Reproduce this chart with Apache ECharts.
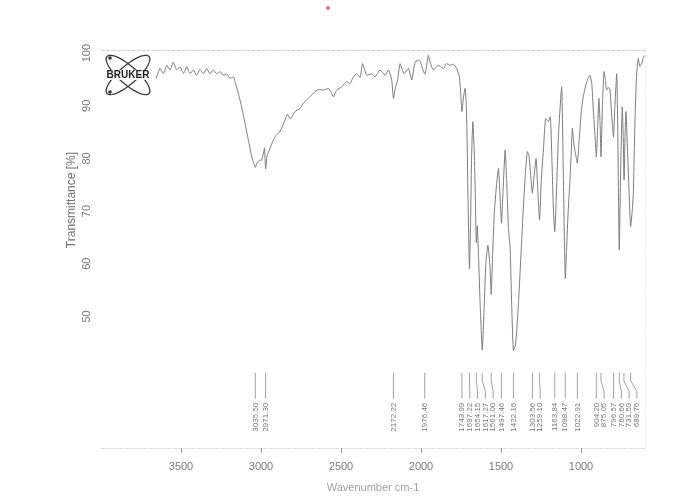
<!DOCTYPE html>
<html>
<head>
<meta charset="utf-8">
<script src="https://cdn.jsdelivr.net/npm/echarts@6/dist/echarts.min.js"></script>
<style>
html,body{margin:0;padding:0;background:#fff;}
#chart{width:675px;height:499px;}
</style>
</head>
<body>
<div id="chart"></div>
<script>
// ---- data ----
const wavenumbers = [
 3655,3631,3610,3589,3569,3548,3527,3506,3485,3464,3444,3423,3402,3381,3360,3339,3319,3298,3277,3256,3235,3214,3194,3173,3162,
 3142,3121,3100,3079,3058,3045,3035,3025,3010,2996,2985,2978,2971,2962,2948,2927,2906,2885,2864,2844,2835,2820,2808,2788,2756,
 2735,2714,2694,2673,2642,2610,2579,2560,2548,2527,2496,2464,2444,2423,2402,2381,2365,2339,2308,2288,2256,2225,2204,2183,2172,
 2160,2146,2131,2106,2079,2058,2037,2010,1990,1976,1965,1954,1940,1923,1892,1860,1840,1819,1798,1777,1760,1752,1744,1735,1725,
 1718,1712,1706,1697,1690,1684,1676,1668,1662,1654,1648,1640,1630,1617,1605,1595,1582,1570,1561,1552,1542,1528,1516,1508,1497,
 1487,1474,1465,1454,1443,1433,1422,1410,1400,1390,1381,1365,1350,1335,1325,1315,1304,1292,1281,1270,1259,1248,1235,1221,1210,
 1204,1192,1182,1172,1164,1155,1140,1121,1112,1104,1098,1090,1080,1069,1060,1054,1045,1037,1030,1023,1010,998,986,965,944,
 932,923,912,904,896,888,880,875,866,856,848,840,830,819,810,797,788,777,770,761,752,742,736,731,725,
 719,710,700,690,680,673,662,652,642,632,621,612,604
];
const transmittance = [
 95.2,97.1,96.1,97.7,96.8,98.3,96.8,97.4,96.1,97.4,96.1,96.8,95.8,96.9,96.1,97.1,96.1,96.8,96.1,96.5,95.8,96.1,95.2,95.5,94.6,
 92.4,89.8,86.7,83.5,80.3,79.0,78.3,79.2,79.6,79.7,81.0,82.0,78.0,80.5,81.6,83.2,84.4,85.0,86.2,87.8,88.4,87.6,87.8,88.9,89.5,
 90.5,91.1,91.7,92.4,93.1,93.0,93.3,92.5,91.7,93.0,93.6,94.6,94.2,95.5,96.1,95.4,98.0,95.8,96.1,95.5,96.8,95.8,96.8,94.9,91.4,
 93.5,94.9,98.0,96.1,97.1,94.9,98.3,98.7,97.0,96.0,97.5,99.6,98.0,96.8,97.7,97.1,98.0,97.7,97.9,97.1,95.5,92.4,88.9,91.5,93.3,
 91.0,84.0,72.0,59.0,68.0,80.0,87.0,82.0,75.0,64.0,67.2,61.0,52.0,43.6,52.0,60.0,63.5,60.0,54.1,62.0,69.6,75.0,78.1,74.0,67.7,
 74.0,81.6,76.0,67.0,63.0,52.0,43.5,44.5,48.0,53.0,58.2,68.0,76.0,81.3,80.5,77.0,73.4,77.0,80.0,74.0,68.3,76.0,81.6,87.6,87.2,
 87.0,87.9,80.0,70.0,66.1,72.0,85.0,93.6,80.0,65.0,57.2,63.0,70.0,75.9,82.0,85.7,83.0,81.3,80.2,79.1,84.0,89.0,91.7,94.5,95.8,
 94.0,89.2,84.0,80.3,86.0,91.4,86.0,80.3,90.0,96.5,95.0,93.0,93.5,93.0,89.0,84.1,90.0,96.1,85.0,62.6,78.0,89.8,84.0,75.9,84.0,
 88.9,82.0,74.0,67.0,70.0,73.4,88.0,96.1,99.0,97.5,98.0,99.0,99.6
];
const peakLabels = [3035.50,2971.30,2172.22,1976.46,1743.99,1697.22,1654.15,1617.27,1561.00,1497.46,1422.16,
  1303.56,1259.10,1163.84,1098.47,1022.91,904.20,875.05,796.57,760.66,731.59,689.76];
const xTickValues = [3500,3000,2500,2000,1500,1000];
const yTickValues = [50,60,70,80,90,100];

// ---- chart ----
const FONT = "'Liberation Sans', Arial, sans-serif";
const chart = echarts.init(document.getElementById('chart'), null, {renderer:'canvas'});

function ellipsePoints(cx, cy, a, b, ang) {
  const pts = [];
  const c = Math.cos(ang), s = Math.sin(ang);
  for (let i = 0; i < 48; i++) {
    const t = i / 48 * Math.PI * 2;
    const x = a * Math.cos(t), y = b * Math.sin(t);
    pts.push([cx + x * c - y * s, cy + x * s + y * c]);
  }
  return pts;
}

const series = [
  {
    type: 'line',
    data: wavenumbers.map((w, i) => [w, transmittance[i]]),
    showSymbol: false,
    smooth: 0.15,
    lineStyle: {color: '#7c7c7c', width: 1},
    z: 3,
    silent: true
  },
  {
    type: 'custom',
    data: peakLabels.map(w => [w, 40]),
    clip: false,
    silent: true,
    renderItem: function (params, api) {
      // spread label positions so neighbours do not overlap
      const xs = peakLabels.map(w => api.coord([w, 40])[0]);
      const order = xs.map((x, i) => i).sort((a, b) => xs[a] - xs[b]);
      const pos = new Array(xs.length);
      let prev = -1e9;
      order.forEach(i => { pos[i] = Math.max(xs[i], prev + 7.8); prev = pos[i]; });
      const i = params.dataIndex;
      const xt = xs[i], xl = pos[i];
      const yTop = api.coord([peakLabels[i], 39.3])[1];
      const pts = [[xt, yTop], [xt, yTop + 8], [xl, yTop + 19], [xl, yTop + 26]];
      return {
        type: 'group',
        children: [
          {type: 'polyline', shape: {points: pts}, style: {stroke: '#8a8a8a', lineWidth: 0.8, fill: null}},
          {type: 'text', x: xl, y: yTop + 30, rotation: Math.PI / 2,
           style: {text: peakLabels[i].toFixed(2), fill: '#777', font: '8px ' + FONT, align: 'right', verticalAlign: 'middle'}}
        ]
      };
    },
    z: 4
  }
];

const option = {
  animation: false,
  backgroundColor: '#ffffff',
  grid: {left: 101, right: 30, top: 50, bottom: 51, containLabel: false},
  xAxis: [
    {
      type: 'value', min: 600, max: 4000, inverse: true, position: 'bottom',
      name: 'Wavenumber cm-1', nameLocation: 'middle', nameGap: 34,
      nameTextStyle: {color: '#a0a0a0', fontSize: 11, fontFamily: FONT},
      axisLine: {show: true, lineStyle: {color: '#dcdcdc', type: 'dashed', width: 1}},
      axisTick: {show: true, length: 5, customValues: xTickValues, lineStyle: {color: '#999'}},
      axisLabel: {customValues: xTickValues, color: '#777', fontSize: 11, fontFamily: FONT, margin: 13,
                  formatter: v => String(v)},
      splitLine: {show: false}
    },
    {
      type: 'value', min: 600, max: 4000, inverse: true, position: 'top',
      axisLine: {show: true, lineStyle: {color: '#cfcfcf', type: [3, 2], width: 1}},
      axisTick: {show: false}, axisLabel: {show: false}, splitLine: {show: false}
    }
  ],
  yAxis: [
    {
      type: 'value', min: 25, max: 100.6, position: 'left',
      axisLine: {show: false},
      axisTick: {show: false, customValues: yTickValues},
      axisLabel: {customValues: yTickValues, rotate: 90, color: '#777', fontSize: 11, fontFamily: FONT, margin: 9,
                  formatter: v => String(v)},
      splitLine: {show: false}
    },
    {
      type: 'value', min: 25, max: 100.6, position: 'right',
      axisLine: {show: true, lineStyle: {color: '#ececec', type: [2, 3], width: 1}},
      axisTick: {show: false}, axisLabel: {show: false}, splitLine: {show: false}
    }
  ],
  graphic: [
    {type: 'text', x: 72, y: 200, rotation: Math.PI / 2,
     style: {text: 'Transmittance [%]', fill: '#6f6f6f', font: '12px ' + FONT, align: 'center', verticalAlign: 'middle'}, z: 10},
    {type: 'polygon', shape: {points: ellipsePoints(128, 75, 28, 9, 0.72)}, style: {fill: null, stroke: '#3a3a3a', lineWidth: 1.3}, z: 10},
    {type: 'polygon', shape: {points: ellipsePoints(128, 75, 28, 9, -0.72)}, style: {fill: null, stroke: '#3a3a3a', lineWidth: 1.3}, z: 10},
    {type: 'circle', shape: {cx: 110, cy: 58, r: 1.8}, style: {fill: '#333'}, z: 10},
    {type: 'circle', shape: {cx: 110, cy: 92, r: 1.8}, style: {fill: '#333'}, z: 10},
    {type: 'text', x: 128, y: 75,
     style: {text: 'BRUKER', fill: '#1e1e1e', font: 'bold 10px ' + FONT, align: 'center', verticalAlign: 'middle',
             backgroundColor: 'rgba(255,255,255,0.85)', padding: [0, 1]}, z: 11},
    {type: 'circle', shape: {cx: 328, cy: 8, r: 2}, style: {fill: '#d07090'}, z: 10}
  ],
  series: series
};
chart.setOption(option);
</script>
</body>
</html>
